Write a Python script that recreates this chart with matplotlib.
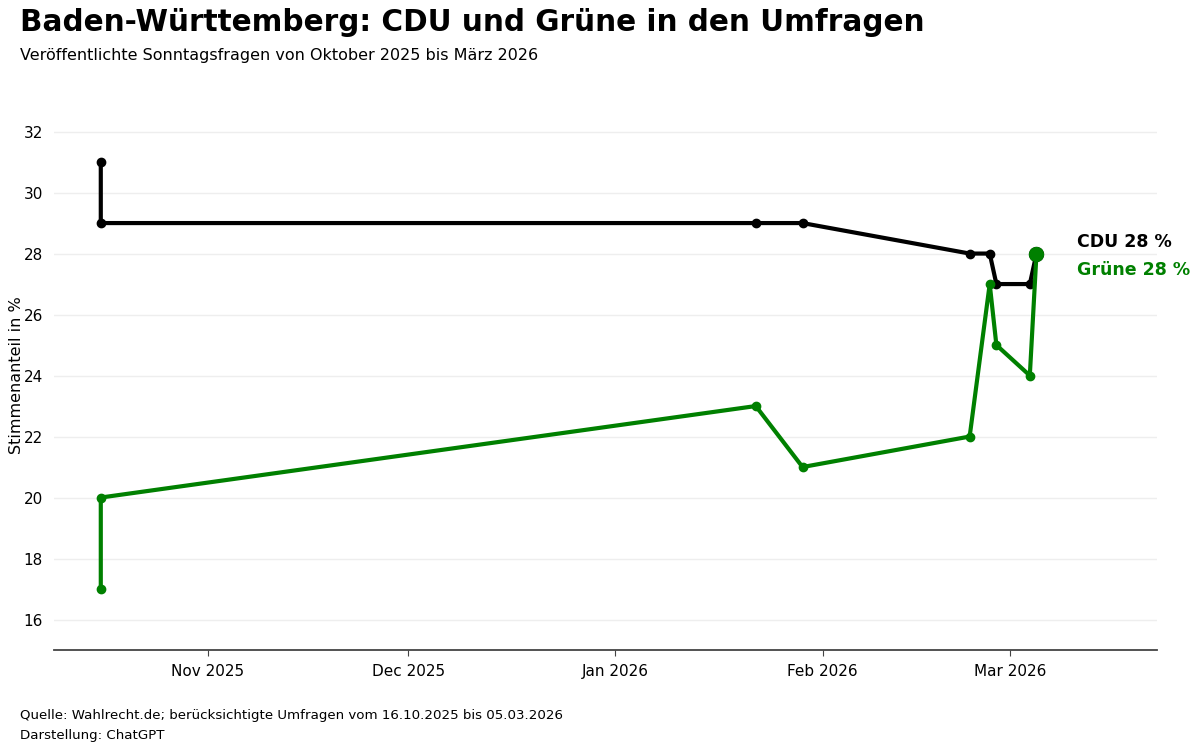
import matplotlib
matplotlib.use("Agg")
import matplotlib.pyplot as plt
import matplotlib.dates as mdates
import pandas as pd

plt.rcParams["font.family"] = ["DejaVu Sans"]

dates = pd.to_datetime([
    "2025-10-16", "2025-10-16", "2026-01-22", "2026-01-29", "2026-02-23",
    "2026-02-26", "2026-02-27", "2026-03-04", "2026-03-05",
])
cdu = [31, 29, 29, 29, 28, 28, 27, 27, 28]
gruene = [17, 20, 23, 21, 22, 27, 25, 24, 28]

series = [("CDU", cdu, "black"), ("Grüne", gruene, "green")]

fig = plt.figure(figsize=(12, 7.52), dpi=100)
ax = fig.add_axes([0.045, 0.1356, 0.919, 0.73])

for name, vals, col in series:
    ax.plot(dates, vals, color=col, linewidth=3, marker="o", markersize=6, zorder=3)
    ax.plot(dates[-1:], vals[-1:], color=col, marker="o", markersize=10, linestyle="none", zorder=4)

label_off = {"CDU": 8.6, "Grüne": -11.5}
for name, vals, col in series:
    ax.annotate(f"{name} {vals[-1]} %", xy=(dates[-1], vals[-1]),
                xytext=(29, label_off[name]), textcoords="offset points",
                color=col, fontsize=12.5, fontweight="bold", va="center", ha="left",
                annotation_clip=False)

ax.set_xlim(dates[0] - pd.Timedelta(days=7), dates[-1] + pd.Timedelta(days=18))
ax.set_ylim(15, 33)
ax.set_yticks(range(16, 33, 2))
ax.xaxis.set_major_locator(mdates.MonthLocator())
ax.xaxis.set_major_formatter(mdates.DateFormatter("%b %Y"))
ax.grid(axis="y", color="#eeeeee", linewidth=1)
ax.set_axisbelow(True)
for s in ["top", "right", "left"]:
    ax.spines[s].set_visible(False)
ax.spines["bottom"].set_color("#444444")
ax.spines["bottom"].set_linewidth(1.3)
ax.tick_params(axis="y", length=0, labelsize=11, pad=8)
ax.tick_params(axis="x", length=4, color="#444444", labelsize=11, pad=6)
ax.set_ylabel("Stimmenanteil in %", fontsize=11.5)
ax.yaxis.set_label_coords(-0.027, 0.5)

fig.text(0.017, 0.97, "Baden-Württemberg: CDU und Grüne in den Umfragen",
         fontsize=21.25, fontweight="bold", va="center")
fig.text(0.017, 0.926, "Veröffentlichte Sonntagsfragen von Oktober 2025 bis März 2026",
         fontsize=11.5, va="center")
fig.text(0.017, 0.048, "Quelle: Wahlrecht.de; berücksichtigte Umfragen vom 16.10.2025 bis 05.03.2026",
         fontsize=9.6, va="center")
fig.text(0.017, 0.022, "Darstellung: ChatGPT", fontsize=9.6, va="center")

fig.savefig("out.png", dpi=100)
